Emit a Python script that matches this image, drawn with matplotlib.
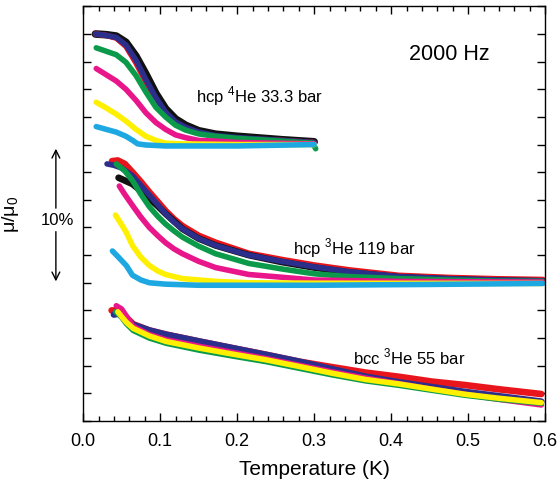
import numpy as np
import matplotlib
matplotlib.use("Agg")
import matplotlib.pyplot as plt
from matplotlib.ticker import MultipleLocator

plt.rcParams['font.family'] = ['Liberation Sans', 'DejaVu Sans']
plt.rcParams['mathtext.fontset'] = 'custom'
plt.rcParams['mathtext.rm'] = 'Liberation Sans'
plt.rcParams['lines.solid_capstyle'] = 'round'
plt.rcParams['lines.solid_joinstyle'] = 'round'

# colours of the runs
c_black = '#111111'
c_red = '#e8161c'
c_blue = '#2c2e8c'
c_green = '#0b9a4a'
c_mag = '#e8158b'
c_yel = '#fff000'
c_cyan = '#1ea8e2'

# y values are in percent (mu/mu0, offset per sample)
# --- hcp 4He 33.3 bar ---
he4_T_top = [0.016, 0.03, 0.043, 0.0556, 0.0686, 0.0815, 0.0944, 0.107, 0.12, 0.133, 0.15, 0.172, 0.20, 0.258, 0.30]
he4_black = [28.0, 27.95, 27.85, 27.4, 26.4, 25.1, 23.7, 22.6, 21.85, 21.4, 21.0, 20.75, 20.6, 20.35, 20.2]
he4_red = [28.0, 27.9, 27.7, 27.1, 25.9, 24.5, 23.2, 22.2, 21.55, 21.15, 20.85, 20.6, 20.45, 20.3, 20.15]
he4_blue = [28.0, 27.9, 27.75, 27.2, 26.1, 24.7, 23.4, 22.35, 21.65, 21.25, 20.9, 20.65, 20.5, 20.3, 20.15]
he4_T_green = [0.017, 0.03, 0.043, 0.0556, 0.0686, 0.0815, 0.0944, 0.107, 0.12, 0.133, 0.15, 0.172, 0.20, 0.258, 0.298, 0.302]
he4_green = [27.0, 26.75, 26.5, 25.95, 25.0, 23.8, 22.7, 22.0, 21.4, 21.05, 20.77, 20.6, 20.45, 20.25, 20.1, 19.7]
he4_T_mag = [0.017, 0.03, 0.043, 0.0556, 0.0686, 0.0815, 0.0944, 0.107, 0.12, 0.133, 0.15, 0.172, 0.20, 0.30]
he4_mag = [25.5, 25.05, 24.6, 24.0, 23.2, 22.3, 21.6, 21.1, 20.7, 20.5, 20.3, 20.25, 20.15, 20.05]
he4_T_yel = [0.017, 0.03, 0.043, 0.0556, 0.0686, 0.0815, 0.0944, 0.107, 0.129, 0.20, 0.30]
he4_yel = [23.06, 22.65, 22.2, 21.7, 21.1, 20.6, 20.3, 20.1, 20.05, 20.0, 20.0]
he4_T_cyan = [0.017, 0.03, 0.043, 0.0556, 0.0643, 0.0708, 0.0815, 0.107, 0.15, 0.20, 0.30]
he4_cyan = [21.3, 21.1, 20.9, 20.6, 20.3, 20.05, 19.97, 19.9, 19.9, 19.9, 20.0]

# --- hcp 3He 119 bar ---
hcp3_T_red = [0.0375, 0.045, 0.054, 0.064, 0.075, 0.086, 0.097, 0.107, 0.118, 0.129, 0.15, 0.172, 0.215, 0.258, 0.30, 0.345, 0.41, 0.474, 0.539, 0.597]
hcp3_red = [18.8, 18.85, 18.6, 18.0, 17.3, 16.55, 15.85, 15.2, 14.6, 14.1, 13.4, 12.9, 12.1, 11.65, 11.25, 10.9, 10.5, 10.35, 10.25, 10.2]
hcp3_T_blue = [0.031, 0.04, 0.05, 0.064, 0.075, 0.086, 0.097, 0.107, 0.118, 0.129, 0.15, 0.172, 0.215, 0.258, 0.30, 0.345, 0.41, 0.474, 0.539, 0.597]
hcp3_blue = [18.6, 18.5, 18.3, 17.75, 17.05, 16.35, 15.65, 15.0, 14.4, 13.9, 13.2, 12.7, 12.0, 11.55, 11.15, 10.8, 10.45, 10.3, 10.2, 10.15]
hcp3_T_black = [0.046, 0.054, 0.064, 0.075, 0.086, 0.097, 0.107, 0.118, 0.129, 0.15, 0.172, 0.215, 0.258, 0.30, 0.345, 0.41, 0.474, 0.539, 0.597]
hcp3_black = [17.6, 17.4, 17.15, 16.65, 16.1, 15.55, 15.0, 14.45, 13.9, 13.2, 12.7, 12.0, 11.5, 11.1, 10.75, 10.4, 10.25, 10.15, 10.1]
hcp3_T_green = [0.043, 0.054, 0.064, 0.075, 0.086, 0.097, 0.107, 0.118, 0.129, 0.15, 0.172, 0.215, 0.258, 0.30, 0.345, 0.41, 0.474, 0.539, 0.597]
hcp3_green = [18.6, 18.1, 17.4, 16.4, 15.5, 14.8, 14.25, 13.75, 13.3, 12.65, 12.1, 11.4, 11.0, 10.65, 10.45, 10.3, 10.2, 10.12, 10.1]
hcp3_T_mag = [0.047, 0.054, 0.064, 0.075, 0.086, 0.097, 0.107, 0.118, 0.129, 0.15, 0.172, 0.215, 0.258, 0.30, 0.41, 0.597]
hcp3_mag = [17.0, 16.4, 15.6, 14.75, 14.0, 13.4, 12.9, 12.45, 12.1, 11.55, 11.1, 10.6, 10.4, 10.2, 10.1, 10.05]
hcp3_T_yel = [0.042, 0.05, 0.056, 0.064, 0.075, 0.086, 0.097, 0.107, 0.129, 0.172, 0.215, 0.30, 0.597]
hcp3_yel = [14.9, 14.2, 13.65, 12.7, 11.85, 11.25, 10.85, 10.6, 10.3, 10.1, 10.0, 9.97, 9.95]
hcp3_T_cyan = [0.038, 0.045, 0.056, 0.064, 0.075, 0.086, 0.107, 0.15, 0.30, 0.45, 0.597]
hcp3_cyan = [12.3, 11.9, 11.25, 10.55, 10.2, 10.0, 9.9, 9.82, 9.82, 9.88, 9.95]

# --- bcc 3He 55 bar ---
bcc_T_red = [0.037, 0.045, 0.054, 0.065, 0.086, 0.108, 0.151, 0.194, 0.237, 0.28, 0.323, 0.367, 0.41, 0.453, 0.496, 0.539, 0.595]
bcc_red = [8.0, 8.0, 7.6, 7.0, 6.55, 6.25, 5.75, 5.27, 4.8, 4.3, 3.9, 3.5, 3.2, 2.85, 2.6, 2.3, 1.95]
bcc_T_blue = [0.04, 0.0475, 0.054, 0.065, 0.086, 0.108, 0.151, 0.194, 0.237, 0.28, 0.323, 0.367, 0.41, 0.453, 0.496, 0.539, 0.595]
bcc_blue = [7.7, 7.8, 7.45, 6.96, 6.55, 6.24, 5.75, 5.27, 4.79, 4.3, 3.75, 3.2, 2.8, 2.45, 2.1, 1.8, 1.4]
bcc_T_mag = [0.043, 0.05, 0.056, 0.065, 0.086, 0.108, 0.151, 0.194, 0.237, 0.28, 0.323, 0.367, 0.41, 0.453, 0.496, 0.539, 0.595]
bcc_mag = [8.34, 8.1, 7.6, 6.84, 6.25, 5.87, 5.4, 4.96, 4.52, 4.04, 3.56, 3.1, 2.7, 2.3, 1.93, 1.57, 1.16]
bcc_T_green = [0.042, 0.05, 0.056, 0.065, 0.086, 0.108, 0.151, 0.194, 0.237, 0.28, 0.323, 0.367, 0.41, 0.453, 0.496, 0.539, 0.595]
bcc_green = [7.9, 7.5, 7.05, 6.55, 6.0, 5.62, 5.12, 4.7, 4.3, 3.82, 3.34, 2.9, 2.58, 2.22, 1.86, 1.58, 1.28]
bcc_T_yel = [0.045, 0.05, 0.056, 0.065, 0.086, 0.108, 0.151, 0.194, 0.237, 0.28, 0.323, 0.367, 0.41, 0.453, 0.496, 0.539, 0.595]
bcc_yel = [7.9, 7.55, 7.15, 6.7, 6.15, 5.75, 5.27, 4.84, 4.43, 3.95, 3.46, 3.0, 2.68, 2.3, 1.93, 1.65, 1.33]

fig = plt.figure(figsize=(5.58, 4.81), dpi=100)
ax = fig.add_axes([0.149, 0.1227, 0.828, 0.862])

lw = 4.0
# hcp 4He
ax.plot(he4_T_top, he4_black, color=c_black, lw=lw + 1.5)
ax.plot(he4_T_top, he4_red, color=c_red, lw=lw)
ax.plot(he4_T_top, he4_blue, color=c_blue, lw=lw)
ax.plot(he4_T_green, he4_green, color=c_green, lw=lw)
ax.plot(he4_T_mag, he4_mag, color=c_mag, lw=lw)
ax.plot(he4_T_yel, he4_yel, color=c_yel, lw=lw)
ax.plot(he4_T_cyan, he4_cyan, color=c_cyan, lw=lw)

# hcp 3He
ax.plot(hcp3_T_red, hcp3_red, color=c_red, lw=lw + 0.8)
ax.plot(hcp3_T_black, hcp3_black, color=c_black, lw=lw + 0.8)
ax.plot(hcp3_T_blue, hcp3_blue, color=c_blue, lw=lw)
ax.plot(hcp3_T_green, hcp3_green, color=c_green, lw=lw)
ax.plot(hcp3_T_mag, hcp3_mag, color=c_mag, lw=lw)
ax.plot(hcp3_T_yel, hcp3_yel, color=c_yel, lw=lw)
ax.plot(hcp3_T_cyan, hcp3_cyan, color=c_cyan, lw=lw)

# bcc 3He
ax.plot(bcc_T_red, bcc_red, color=c_red, lw=lw + 0.8)
ax.plot(bcc_T_blue, bcc_blue, color=c_blue, lw=lw + 0.8)
ax.plot(bcc_T_mag, bcc_mag, color=c_mag, lw=lw)
ax.plot(bcc_T_green, bcc_green, color=c_green, lw=lw)
ax.plot(bcc_T_yel, bcc_yel, color=c_yel, lw=lw)

ax.set_xlim(0, 0.6)
ax.set_ylim(0, 30)
ax.xaxis.set_major_locator(MultipleLocator(0.1))
ax.xaxis.set_minor_locator(MultipleLocator(0.02))
ax.yaxis.set_major_locator(MultipleLocator(2))
ax.set_xticklabels(['%.1f' % v for v in ax.get_xticks()])
ax.tick_params(which='both', direction='in', top=True, right=True, width=1.0, labelsize=13)
ax.tick_params(which='major', length=6, pad=8)
ax.tick_params(which='minor', length=3.5)
ax.tick_params(axis='y', labelleft=False)
for s in ax.spines.values():
    s.set_linewidth(1.0)

ax.set_xlabel('Temperature (K)', fontsize=15, labelpad=7)
ax.set_ylabel('μ/μ$_0$', fontsize=14)
ax.yaxis.set_label_coords(-0.135, 0.5)

# 10 % scale arrow
tr = ax.get_yaxis_transform()
ax.annotate('', xy=(-0.059, 19.9), xytext=(-0.059, 15.2), xycoords=tr, textcoords=tr,
            arrowprops=dict(arrowstyle='->', lw=1.0, color='k', mutation_scale=14))
ax.annotate('', xy=(-0.059, 9.9), xytext=(-0.059, 13.9), xycoords=tr, textcoords=tr,
            arrowprops=dict(arrowstyle='->', lw=1.0, color='k', mutation_scale=14))
ax.text(-0.055, 14.55, '10%', transform=tr, ha='center', va='center', fontsize=12)

ax.text(0.475, 26.6, '2000 Hz', ha='center', va='center', fontsize=15.5)
ax.text(0.146, 23.6, 'hcp $^{\\mathrm{4}}$He 33.3 bar', ha='left', va='center', fontsize=12)
ax.text(0.273, 12.6, 'hcp $^{\\mathrm{3}}$He 119 bar', ha='left', va='center', fontsize=12)
ax.text(0.351, 4.7, 'bcc $^{\\mathrm{3}}$He 55 bar', ha='left', va='center', fontsize=12)

fig.savefig('out.png', dpi=100)
